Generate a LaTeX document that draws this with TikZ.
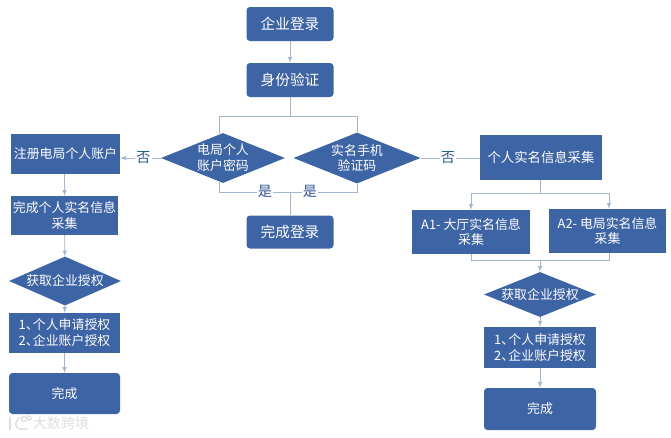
\documentclass[tikz,border=0pt]{standalone}
\usepackage{fontspec}
\setmainfont{Noto Sans CJK SC}
\usetikzlibrary{arrows,shapes.geometric}
\definecolor{boxblue}{HTML}{3D64A5}
\definecolor{linkblue}{HTML}{A3B5D3}
\definecolor{wordblue}{HTML}{2F5597}
\tikzset{
	box/.style={draw=none,fill=boxblue,text=white,align=center,inner sep=0pt,font=\fontsize{11}{13.6}\selectfont},
	roundbox/.style={box,rounded corners=3pt},
	bigbox/.style={roundbox,font=\fontsize{12.5}{14}\selectfont},
	choice/.style={box,diamond,aspect=2.5},
	link/.style={draw=linkblue,line width=0.7pt},
	word/.style={fill=white,text=wordblue,inner sep=1pt,font=\fontsize{12}{13}\selectfont},
	logoline/.style={draw=black!13,line width=1.2pt},
}
\begin{document}
\begin{tikzpicture}[x=0.03cm,y=-0.03cm]
	\useasboundingbox (0,0) rectangle (671,437);
\node[bigbox,minimum width=87*0.03cm,minimum height=34*0.03cm] (0) at (290,24) {企业登录};
\node[bigbox,minimum width=87*0.03cm,minimum height=34*0.03cm] (1) at (290,80) {身份验证};
\node[choice,minimum width=124*0.03cm,minimum height=50*0.03cm] (2) at (223,158) {电局个人\\账户密码};
\node[choice,minimum width=127*0.03cm,minimum height=51*0.03cm] (3) at (357,158) {实名手机\\验证码};
\node[bigbox,minimum width=87*0.03cm,minimum height=33*0.03cm] (4) at (290,232) {完成登录};
\node[box,minimum width=109*0.03cm,minimum height=40*0.03cm] (5) at (65.5,154) {注册电局个人账户};
\node[box,minimum width=107*0.03cm,minimum height=39*0.03cm] (6) at (64.5,215.5) {完成个人实名信息\\采集};
\node[choice,minimum width=112*0.03cm,minimum height=49*0.03cm] (7) at (65,281) {获取企业授权};
\node[box,minimum width=111*0.03cm,minimum height=40*0.03cm] (8) at (64.5,333) {1、\kern-.45em个人申请授权\\2、\kern-.45em企业账户授权};
\node[roundbox,minimum width=111*0.03cm,minimum height=41*0.03cm] (9) at (64.5,393.5) {完成};
\node[box,minimum width=122*0.03cm,minimum height=45*0.03cm,font=\fontsize{11.4}{14}\selectfont] (10) at (541,157.5) {个人实名信息采集};
\node[box,minimum width=118*0.03cm,minimum height=44*0.03cm] (11) at (471,232) {A1- 大厅实名信息\\采集};
\node[box,minimum width=117*0.03cm,minimum height=44*0.03cm] (12) at (607.5,231) {A2- 电局实名信息\\采集};
\node[choice,minimum width=112*0.03cm,minimum height=45*0.03cm] (13) at (540,294.5) {获取企业授权};
\node[box,minimum width=112*0.03cm,minimum height=41*0.03cm] (14) at (540,347.5) {1、\kern-.45em个人申请授权\\2、\kern-.45em企业账户授权};
\node[roundbox,minimum width=112*0.03cm,minimum height=42*0.03cm] (15) at (540,409) {完成};
\node[text=black!13,font=\fontsize{12}{14}\selectfont,inner sep=0pt] (16) at (61,423) {大数跨境};
\coordinate (a0) at (290,116);
\coordinate (a1) at (219,116);
\coordinate (a2) at (357,116);
\coordinate (a3) at (219,135);
\coordinate (b0) at (290,192);
\coordinate (b1) at (219,192);
\coordinate (b2) at (357,192);
\coordinate (b3) at (219,181);
\coordinate (c0) at (540,193);
\coordinate (c1) at (471,193);
\coordinate (c2) at (609,193);
\coordinate (d0) at (540,260);
\coordinate (d1) at (471,260);
\coordinate (d2) at (609,260);
\draw [link,->,>=latex,](0)--(1);
\draw [link](1)--(a0);
\draw [link](a3)--(a1)--(a2)--(3.north);
\draw [link](b3)--(b1)--(b2)--(3.south);
\draw [link](b0)--(4);
\draw [link,->,>=latex,](2.west)--(5.east|-2.west) node[word,pos=0.43]{否};
\draw [link,->,>=latex,](5.south-|6)--(6);
\draw [link,->,>=latex,](6)--(7);
\draw [link,->,>=latex,](7)--(8);
\draw [link,->,>=latex,](8)--(9);
\draw [link](3.east)--(10.west|-3.east) node[word,pos=0.46]{否};
\draw [link](10.south-|c0)--(c0);
\draw [link,->,>=latex,](c0)--(c1)--(11.north-|c1);
\draw [link,->,>=latex,](c0)--(c2)--(12.north-|c2);
\draw [link](11.south-|d1)--(d1)--(d2)--(12.south-|d2);
\draw [link,->,>=latex,](d0)--(13);
\draw [link,->,>=latex,](13)--(14);
\draw [link,->,>=latex,](14)--(15);
\node[word] (17) at (265,191) {是};
\node[word] (18) at (310,191) {是};
% faint logo next to the watermark
\draw [logoline](10,417)--(10,430);
\draw [logoline](20,417)..controls (13,423) and (14,431) .. (28,429);
\draw [logoline](24,419) circle (2.5);
\draw [logoline](29,418) circle (2);
	\end{tikzpicture}
\end{document}
